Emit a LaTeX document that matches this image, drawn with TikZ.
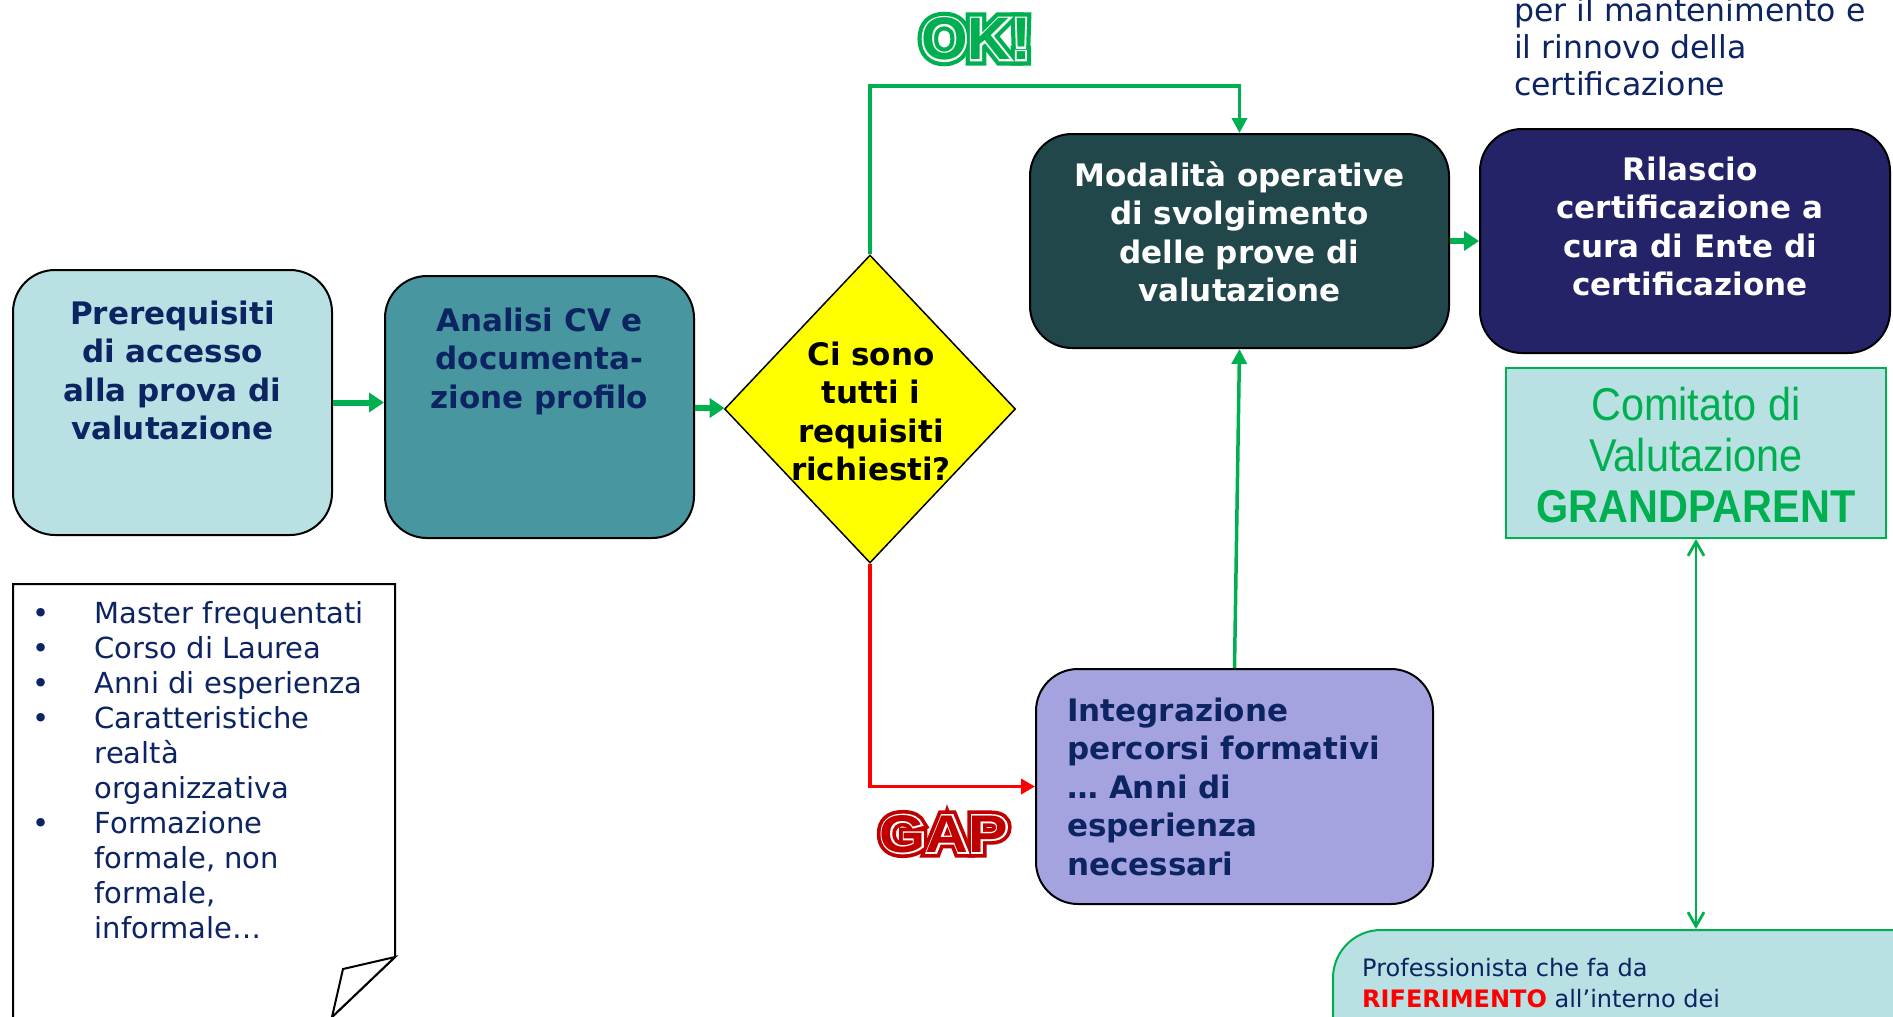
\documentclass[tikz,border=0pt]{standalone}
\usepackage{fontspec}
\setmainfont{DejaVu Sans}
\newfontfamily\libsans{Liberation Sans}
\newfontfamily\libsansN[FakeStretch=0.9]{Liberation Sans}
\newfontfamily\okO[FakeBold=20]{Liberation Sans Bold}
\newfontfamily\okW[FakeBold=6]{Liberation Sans Bold}
\newfontfamily\okN{Liberation Sans Bold}
\newfontfamily\gapO[FakeStretch=1.12,FakeBold=20]{Liberation Sans Bold}
\newfontfamily\gapW[FakeStretch=1.12,FakeBold=6]{Liberation Sans Bold}
\newfontfamily\gapN[FakeStretch=1.12]{Liberation Sans Bold}
\usetikzlibrary{arrows.meta,shapes.geometric}
\definecolor{navy}{HTML}{0C2462}
\definecolor{grn}{HTML}{00B050}
\definecolor{lcyan}{HTML}{B9E0E3}
\definecolor{teal2}{HTML}{4796A0}
\definecolor{dteal}{HTML}{21474A}
\definecolor{indig}{HTML}{242368}
\definecolor{lav}{HTML}{A4A3DF}
\definecolor{dred}{HTML}{C00000}
\definecolor{yel}{HTML}{FFFF00}
\newcommand\tops{\rule{0pt}{0.76em}}
\newcommand\bul{\makebox[62pt][l]{•}}
\begin{document}
\begin{tikzpicture}[x=1pt,y=-1pt,
  box/.style={rectangle, rounded corners=42pt, draw=black, line width=2pt, inner sep=0pt},
  btxt/.style={font=\bfseries\fontsize{31}{38.5}\selectfont, align=center, inner sep=0pt, anchor=north},
  garrow/.style={draw=grn, line width=6pt, -{Triangle[length=15pt,width=19pt]}},
  gline/.style={draw=grn, line width=3.5pt, -{Triangle[length=15pt,width=15pt]}},
  rline/.style={draw=red, line width=3.5pt, -{Triangle[length=14pt,width=15pt]}},
  dline/.style={draw=grn, line width=2.8pt, {Straight Barb[length=14pt,width=16pt]}-{Straight Barb[length=14pt,width=16pt]}},
  okfont/.style={font=\fontsize{60}{60}\selectfont, inner sep=0pt},
  gapfont/.style={font=\fontsize{53}{53}\selectfont, inner sep=0pt}
]
\useasboundingbox (0,0) rectangle (1893,1017);
\clip (0,0) rectangle (1893,1017);
\fill[white] (0,0) rectangle (1893,1017);

% boxes
\node[box, fill=lcyan, minimum width=319pt, minimum height=265pt] (b1) at (172.5,402.5) {};
\node[box, fill=teal2, minimum width=309pt, minimum height=262pt] (b2) at (539.5,407) {};
\node[diamond, draw=black, line width=1.5pt, fill=yel, inner sep=0pt, minimum width=291pt, minimum height=308pt] (dia) at (870,409) {};
\node[box, fill=dteal, minimum width=419pt, minimum height=214pt] (modal) at (1239.5,241) {};
\node[box, fill=indig, minimum width=410pt, minimum height=224pt] (ril) at (1685,241) {};
\node[box, fill=lav, minimum width=397pt, minimum height=235pt] (integ) at (1234.5,786.5) {};
\node[rectangle, draw=grn, line width=2pt, fill=lcyan, minimum width=380pt, minimum height=170pt, inner sep=0pt] (comit) at (1696,453) {};
\node[rectangle, rounded corners=48pt, draw=grn, line width=2pt, fill=lcyan, minimum width=700pt, minimum height=200pt, inner sep=0pt] (prof) at (1683,1030) {};

% list box with folded corner
\draw[black, line width=2pt, fill=white] (13,1030) -- (13,584) -- (395,584) -- (395,957) -- (332,1017) -- (328,1030);
\draw[black, line width=2pt, fill=white] (395,957) -- (343,969) -- (332,1017) -- cycle;

% texts
\node[btxt, text=navy] (t1) at (172.5,300.4) {\tops Prerequisiti\\di accesso\\alla prova di\\valutazione};
\node[btxt, text=navy] (t2) at (539.5,307.4) {\tops Analisi CV e\\documenta-\\zione profilo};
\node[btxt, text=black] (t3) at (871,341.4) {\tops Ci sono\\tutti i\\requisiti\\richiesti?};
\node[btxt, text=white] (t4) at (1239.5,161.4) {\tops Modalità operative\\di svolgimento\\delle prove di\\valutazione};
\node[btxt, text=white] (t5) at (1690,156.4) {\tops Rilascio\\certificazione a\\cura di Ente di\\certificazione};
\node[btxt, text=navy, anchor=north west, align=left] (t6) at (1067,697.4) {\tops Integrazione\\percorsi formativi\\… Anni di\\esperienza\\necessari};
\node[font=\fontsize{31.5}{37}\selectfont, text=navy, align=left, anchor=north west, inner sep=0pt] (t7) at (1514,-2.9) {\tops per il mantenimento e\\il rinnovo della\\certificazione};
\node[font=\libsansN\fontsize{46}{51}\selectfont, text=grn, align=center, anchor=north, inner sep=0pt] (t8) at (1696,385) {\tops Comitato di\\Valutazione\\\textbf{GRANDPARENT}};
\node[font=\fontsize{24}{31}\selectfont, text=navy, align=left, anchor=north west, inner sep=0pt] (t9) at (1362,957.8) {\tops Professionista che fa da\\\textcolor{red}{\bfseries RIFERIMENTO} all’interno dei};
\node[font=\fontsize{29}{35}\selectfont, text=navy, anchor=north west, inner sep=0pt] (lst) at (32.5,598.5) {%
\renewcommand\arraystretch{1}%
\begin{tabular}{@{}l@{}l@{}}
\bul&Master frequentati\\
\bul&Corso di Laurea\\
\bul&Anni di esperienza\\
\bul&Caratteristiche\\
&realtà\\
&organizzativa\\
\bul&Formazione\\
&formale, non\\
&formale,\\
&informale…
\end{tabular}};

% OK! and GAP (outlined lettering)
\node[okfont, text=grn] (okA) at (976,39) {\okO OK!};
\node[okfont, text=white] (okB) at (976,39) {\okW OK!};
\node[okfont, text=grn] (okC) at (976,39) {\okN OK!};
\node[gapfont, text=dred] (gapA) at (944,834) {\gapO GAP};
\node[gapfont, text=white] (gapB) at (944,834) {\gapW GAP};
\node[gapfont, text=dred] (gapC) at (944,834) {\gapN GAP};

% connectors
\coordinate (okturn) at (870,86);
\draw[garrow] (b1.east) -- (b1.east -| b2.west);
\draw[garrow] (b2) -- (dia);
\draw[garrow] (modal) -- (ril);
\draw[gline] (dia.north) -- (okturn) -| (modal.north);
\draw[rline] (dia.south) |- (integ.west);
\draw[gline] (integ.north) -- (modal.south);
\draw[dline] (comit.south) -- (comit.south |- prof.north);
\end{tikzpicture}
\end{document}
